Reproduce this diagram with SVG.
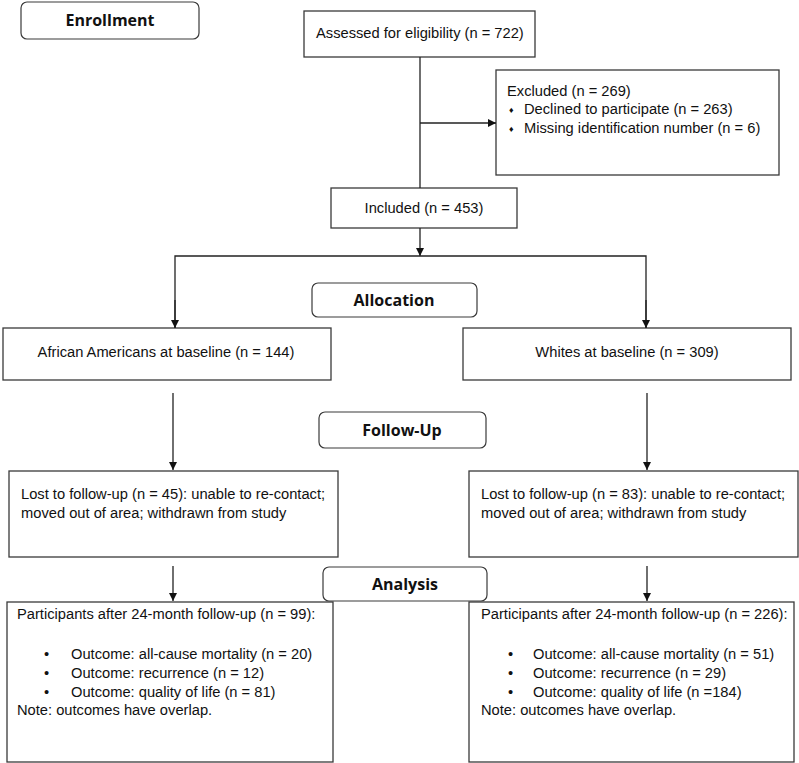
<svg xmlns="http://www.w3.org/2000/svg" width="799" height="763" viewBox="0 0 799 763">
<defs>
<style>
.box{fill:#fff;stroke:#3a3a3a;stroke-width:1.3}
.hdr{fill:#fff;stroke:#3a3a3a;stroke-width:1.2}
.t{font-family:"Liberation Sans",Arial,sans-serif;font-size:14.7px;fill:#111}
.h{font-family:"Open Sans","Noto Sans",sans-serif;font-size:16px;font-weight:bold;fill:#111;text-anchor:middle}
.c{text-anchor:middle}
.ln{fill:none;stroke:#222;stroke-width:1.3}
.dia{font-size:9px}
</style>
<marker id="ah" viewBox="0 0 10 10" refX="10" refY="5" markerWidth="8" markerHeight="8" markerUnits="userSpaceOnUse" orient="auto">
<path d="M0,0 L10,5 L0,10 z" fill="#111"/>
</marker>
</defs>
<rect width="799" height="763" fill="#fff"/>

<g id="enrollment">
<rect class="hdr" x="21" y="2" width="178" height="37" rx="6"/>
<text class="h" x="110" y="26">Enrollment</text>
</g>

<g id="assessed">
<rect class="box" x="304" y="11" width="231" height="46"/>
<text class="t" x="316" y="38">Assessed for eligibility (n = 722)</text>
</g>

<g id="excluded">
<rect class="box" x="496" y="70" width="283" height="105"/>
<text class="t" x="507" y="96">Excluded (n = 269)</text>
<text class="t dia" x="509" y="113">♦</text>
<text class="t" x="524" y="114">Declined to participate (n = 263)</text>
<text class="t dia" x="509" y="132">♦</text>
<text class="t" x="524" y="133">Missing identification number (n = 6)</text>
</g>

<g id="included">
<rect class="box" x="331" y="188" width="186" height="40"/>
<text class="t c" x="424" y="213">Included (n = 453)</text>
</g>

<g id="allocation">
<rect class="hdr" x="312" y="283" width="165" height="34" rx="6"/>
<text class="h" x="394" y="306">Allocation</text>
</g>

<g id="aa-baseline">
<rect class="box" x="3" y="328" width="328" height="52"/>
<text class="t c" x="166" y="357">African Americans at baseline (n = 144)</text>
</g>

<g id="w-baseline">
<rect class="box" x="463" y="328" width="328" height="52"/>
<text class="t c" x="627" y="357">Whites at baseline (n = 309)</text>
</g>

<g id="followup">
<rect class="hdr" x="319" y="412" width="167" height="36" rx="6"/>
<text class="h" x="402" y="436">Follow-Up</text>
</g>

<g id="aa-lost">
<rect class="box" x="9" y="471" width="329" height="86"/>
<text class="t" x="21" y="499">Lost to follow-up (n = 45): unable to re-contact;</text>
<text class="t" x="21" y="518">moved out of area; withdrawn from study</text>
</g>

<g id="w-lost">
<rect class="box" x="469" y="471" width="329" height="86"/>
<text class="t" x="481" y="499">Lost to follow-up (n = 83): unable to re-contact;</text>
<text class="t" x="481" y="518">moved out of area; withdrawn from study</text>
</g>

<g id="analysis">
<rect class="hdr" x="323" y="567" width="164" height="34" rx="6"/>
<text class="h" x="405" y="590">Analysis</text>
</g>

<g id="aa-final">
<rect class="box" x="7" y="602" width="326" height="160"/>
<text class="t" x="17" y="619">Participants after 24-month follow-up (n = 99):</text>
<text class="t" x="44" y="659">•</text>
<text class="t" x="71" y="659">Outcome: all-cause mortality (n = 20)</text>
<text class="t" x="44" y="678">•</text>
<text class="t" x="71" y="678">Outcome: recurrence (n = 12)</text>
<text class="t" x="44" y="697">•</text>
<text class="t" x="71" y="697">Outcome: quality of life (n = 81)</text>
<text class="t" x="17" y="715">Note: outcomes have overlap.</text>
</g>

<g id="w-final">
<rect class="box" x="469" y="602" width="325" height="160"/>
<text class="t" x="481" y="619">Participants after 24-month follow-up (n = 226):</text>
<text class="t" x="508" y="659">•</text>
<text class="t" x="533" y="659">Outcome: all-cause mortality (n = 51)</text>
<text class="t" x="508" y="678">•</text>
<text class="t" x="533" y="678">Outcome: recurrence (n = 29)</text>
<text class="t" x="508" y="697">•</text>
<text class="t" x="533" y="697">Outcome: quality of life (n =184)</text>
<text class="t" x="481" y="715">Note: outcomes have overlap.</text>
</g>

<g id="connectors">
<line class="ln" x1="420" y1="57" x2="420" y2="188"/>
<line class="ln" x1="420" y1="123" x2="496" y2="123" marker-end="url(#ah)"/>
<line class="ln" x1="420" y1="228" x2="420" y2="256" marker-end="url(#ah)"/>
<polyline class="ln" points="175,328 175,256 646,256 646,328"/>
<line class="ln" x1="175" y1="300" x2="175" y2="328" marker-end="url(#ah)"/>
<line class="ln" x1="646" y1="300" x2="646" y2="328" marker-end="url(#ah)"/>
<line class="ln" x1="173" y1="393" x2="173" y2="470" marker-end="url(#ah)"/>
<line class="ln" x1="647" y1="393" x2="647" y2="470" marker-end="url(#ah)"/>
<line class="ln" x1="173" y1="566" x2="173" y2="601" marker-end="url(#ah)"/>
<line class="ln" x1="647" y1="566" x2="647" y2="601" marker-end="url(#ah)"/>
</g>
</svg>
